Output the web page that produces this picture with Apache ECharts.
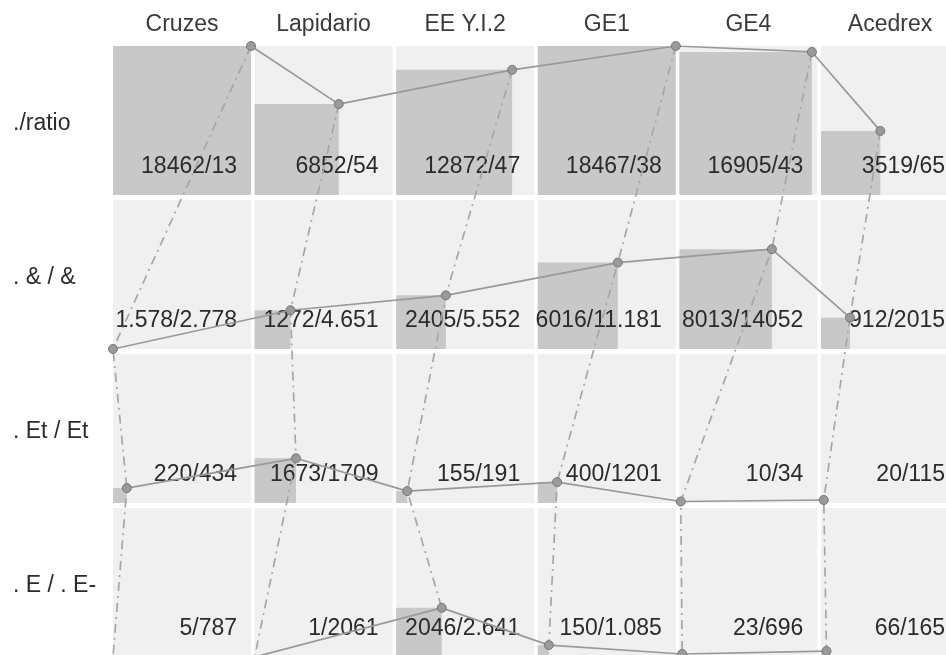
<!DOCTYPE html>
<html>
<head>
<meta charset="utf-8">
<script src="https://cdn.jsdelivr.net/npm/echarts@6/dist/echarts.min.js"></script>
<style>
  html, body { margin: 0; padding: 0; background: #fff; }
  #chart { width: 946px; height: 655px; }
</style>
</head>
<body>
<div id="chart"></div>
<script>
const columns = ['Cruzes', 'Lapidario', 'EE Y.I.2', 'GE1', 'GE4', 'Acedrex'];
const rows = ['./ratio', '. & / &', '. Et / Et', '. E / . E-'];

// share of each cell that is filled (0..1), one array per row
const ratioShare = [1.0, 0.61, 0.84, 1.0, 0.96, 0.43];
const ampShare = [0.0, 0.26, 0.36, 0.58, 0.67, 0.21];
const etShare = [0.10, 0.30, 0.08, 0.14, 0.01, 0.02];
const eShare = [0.0, 0.0, 0.33, 0.08, 0.02, 0.04];

const ratioText = ['18462/13', '6852/54', '12872/47', '18467/38', '16905/43', '3519/65'];
const ampText = ['1.578/2.778', '1272/4.651', '2405/5.552', '6016/11.181', '8013/14052', '912/2015'];
const etText = ['220/434', '1673/1709', '155/191', '400/1201', '10/34', '20/115'];
const eText = ['5/787', '1/2061', '2046/2.641', '150/1.085', '23/696', '66/165'];

const shares = [ratioShare, ampShare, etShare, eShare];
const texts = [ratioText, ampText, etText, eText];

// slot pitch in px; the last column and row run past the page edge
const PITCH_X = 141.6;
const PITCH_Y = 154;
const LEFT = 113;
const TOP = 46;
const W = 946 - LEFT;
const H = 655 - TOP;
// a cell fills this much of its slot, the rest is the white gap
const CW = 138 / PITCH_X;
const CH = 149 / PITCH_Y;
const FONT = '"Liberation Sans", Arial, sans-serif';

const cellData = [];
shares.forEach((row, r) => {
  row.forEach((f, c) => cellData.push([c, r, f]));
});

function pointOf(c, r, f) {
  return [c + f * CW, r + CH - f * CH];
}

const rowSeries = shares.map((row, r) => ({
  type: 'line',
  z: 4,
  symbol: 'circle',
  symbolSize: 9,
  lineStyle: { color: '#999', width: 1.7 },
  itemStyle: { color: '#9a9a9a', borderColor: '#777', borderWidth: 1 },
  data: row.map((f, c) => pointOf(c, r, f))
}));

const colSeries = columns.map((name, c) => ({
  type: 'line',
  z: 3,
  symbol: 'none',
  lineStyle: { color: '#a6a6a6', width: 1.7, type: [9, 5, 2, 5] },
  data: shares.map((row, r) => pointOf(c, r, row[c]))
}));

const chart = echarts.init(document.getElementById('chart'));
chart.setOption({
  animation: false,
  grid: { left: LEFT, top: TOP, width: W, height: H },
  xAxis: { type: 'value', min: 0, max: W / PITCH_X, show: false },
  yAxis: { type: 'value', min: 0, max: H / PITCH_Y, inverse: true, show: false },
  series: [
    {
      type: 'custom',
      z: 1,
      clip: false,
      data: cellData,
      renderItem: function (params, api) {
        const c = api.value(0);
        const r = api.value(1);
        const f = api.value(2);
        const tl = api.coord([c, r]);
        const br = api.coord([c + CW, r + CH]);
        const inner = api.coord(pointOf(c, r, f));
        return {
          type: 'group',
          children: [
            {
              type: 'rect',
              shape: { x: tl[0], y: tl[1], width: br[0] - tl[0], height: br[1] - tl[1] },
              style: { fill: '#f0f0f0' }
            },
            {
              type: 'rect',
              shape: { x: tl[0], y: inner[1], width: inner[0] - tl[0], height: br[1] - inner[1] },
              style: { fill: '#c8c8c8' }
            },
            {
              type: 'text',
              z2: 5,
              x: br[0] - 14,
              y: br[1] - 28,
              style: {
                text: texts[r][c],
                fill: '#2b2b2b',
                font: '23px ' + FONT,
                align: 'right',
                verticalAlign: 'middle'
              }
            }
          ]
        };
      }
    },
    {
      // column headers above each cell
      type: 'custom',
      z: 5,
      clip: false,
      data: columns.map((name, c) => [c + CW / 2, 0]),
      renderItem: function (params, api) {
        const p = api.coord([api.value(0), api.value(1)]);
        return {
          type: 'text',
          x: p[0],
          y: p[1] - 21,
          style: {
            text: columns[params.dataIndex],
            fill: '#3a3a3a',
            font: '23px ' + FONT,
            align: 'center',
            verticalAlign: 'middle'
          }
        };
      }
    },
    {
      // row names, left of the cells
      type: 'custom',
      z: 5,
      clip: false,
      data: rows.map((name, r) => [0, r + CH / 2]),
      renderItem: function (params, api) {
        const p = api.coord([api.value(0), api.value(1)]);
        return {
          type: 'text',
          x: p[0] - 100,
          y: p[1] + 3,
          style: {
            text: rows[params.dataIndex],
            fill: '#2b2b2b',
            font: '23px ' + FONT,
            align: 'left',
            verticalAlign: 'middle'
          }
        };
      }
    },
    ...colSeries,
    ...rowSeries
  ]
});
window.addEventListener('resize', () => chart.resize());
</script>
</body>
</html>
